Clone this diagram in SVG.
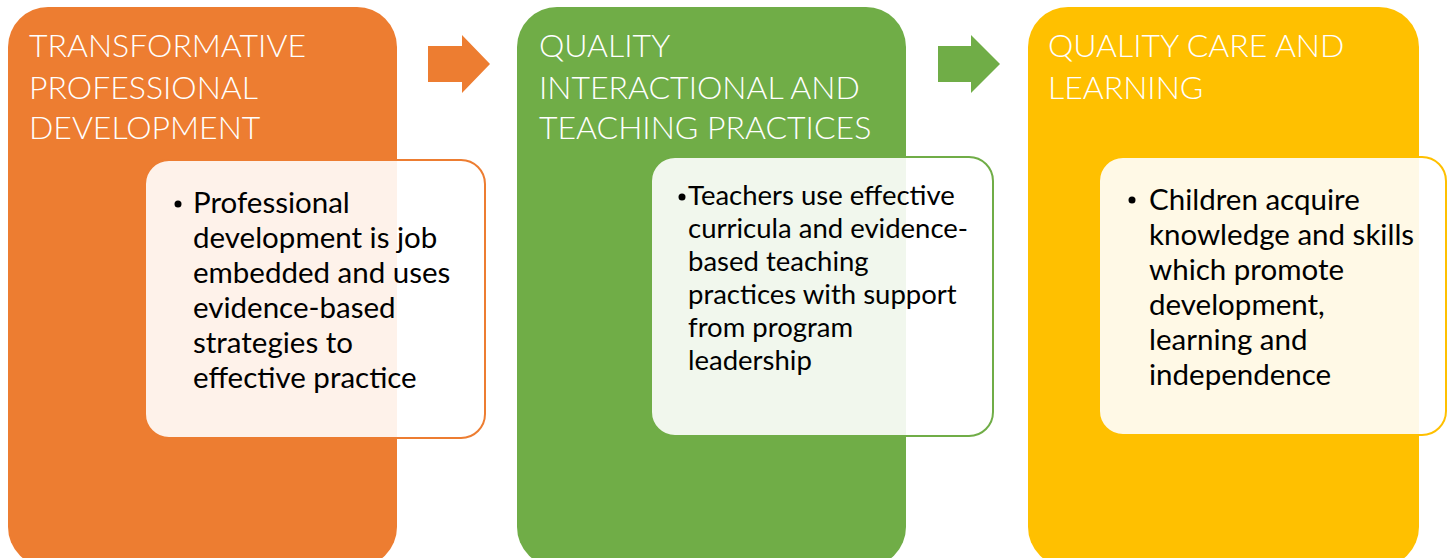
<svg xmlns="http://www.w3.org/2000/svg" width="1454" height="558" viewBox="0 0 1454 558">
  <style>
    .title { font-family: Lato, "Open Sans", sans-serif; font-weight: 300; font-size: 32px; fill: #ffffff; }
    .body { font-family: Lato, "Open Sans", sans-serif; font-size: 29.5px; fill: #000000; }
    .body.tight { font-size: 27.5px; }
    .card { fill: #ffffff; fill-opacity: 0.9; stroke-width: 2; }
  </style>
  <rect width="1454" height="558" fill="#ffffff"/>

  <!-- stage 1 -->
  <g id="stage-professional-development">
    <rect x="8" y="7" width="389" height="560" rx="40" fill="#ED7D31"/>
    <text class="title" x="29" y="57">TRANSFORMATIVE</text>
    <text class="title" x="29" y="99">PROFESSIONAL</text>
    <text class="title" x="29" y="139">DEVELOPMENT</text>
    <rect class="card" x="145" y="160" width="340" height="278" rx="24" stroke="#ED7D31"/>
    <circle cx="178" cy="204" r="3.5" fill="#000"/>
    <text class="body" x="193">
      <tspan x="193" y="213">Professional</tspan>
      <tspan x="193" y="248">development is job</tspan>
      <tspan x="193" y="283">embedded and uses</tspan>
      <tspan x="193" y="318">evidence-based</tspan>
      <tspan x="193" y="353">strategies to</tspan>
      <tspan x="193" y="388">effective practice</tspan>
    </text>
  </g>

  <!-- stage 2 -->
  <g id="stage-teaching-practices">
    <rect x="517" y="7" width="389" height="560" rx="40" fill="#70AD47"/>
    <text class="title" x="539" y="57">QUALITY</text>
    <text class="title" x="539" y="99">INTERACTIONAL AND</text>
    <text class="title" x="539" y="139">TEACHING PRACTICES</text>
    <rect class="card" x="651" y="157" width="342" height="279" rx="24" stroke="#70AD47"/>
    <circle cx="682" cy="197" r="3.5" fill="#000"/>
    <text class="body tight" x="688">
      <tspan x="688" y="205">Teachers use effective</tspan>
      <tspan x="688" y="238">curricula and evidence-</tspan>
      <tspan x="688" y="271">based teaching</tspan>
      <tspan x="688" y="304">practices with support</tspan>
      <tspan x="688" y="337">from program</tspan>
      <tspan x="688" y="370">leadership</tspan>
    </text>
  </g>

  <!-- stage 3 -->
  <g id="stage-care-learning">
    <rect x="1028" y="7" width="391" height="560" rx="40" fill="#FFC000"/>
    <text class="title" x="1048" y="57">QUALITY CARE AND</text>
    <text class="title" x="1048" y="99">LEARNING</text>
    <rect class="card" x="1099" y="157" width="347" height="278" rx="24" stroke="#FFC000"/>
    <circle cx="1132" cy="200" r="3.5" fill="#000"/>
    <text class="body" x="1149">
      <tspan x="1149" y="210">Children acquire</tspan>
      <tspan x="1149" y="245">knowledge and skills</tspan>
      <tspan x="1149" y="280">which promote</tspan>
      <tspan x="1149" y="315">development,</tspan>
      <tspan x="1149" y="350">learning and</tspan>
      <tspan x="1149" y="385">independence</tspan>
    </text>
  </g>

  <!-- flow arrows -->
  <g id="connectors">
    <polygon points="428,46 462,46 462,35 490,64 462,93 462,82 428,82" fill="#ED7D31"/>
    <polygon points="938,46 971,46 971,35 1000,64 971,93 971,82 938,82" fill="#70AD47"/>
  </g>
</svg>
